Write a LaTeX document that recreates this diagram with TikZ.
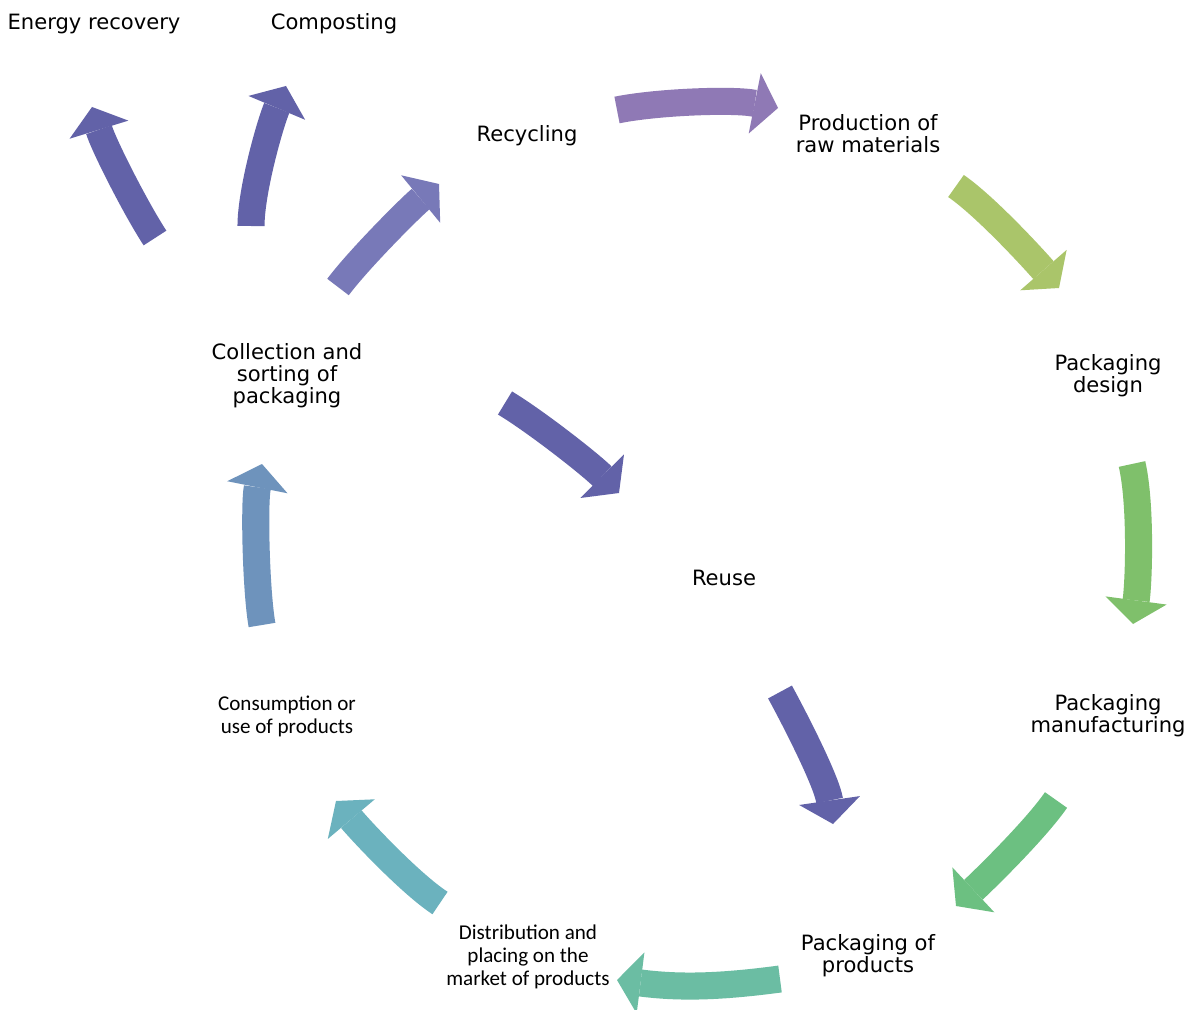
\documentclass[tikz,border=0pt]{standalone}
\usepackage{fontspec}
\setmainfont{DejaVu Sans}
\newfontfamily\smallfont{Carlito}
\usetikzlibrary{arrows.meta}
\definecolor{recyclepurple}{RGB}{143,121,181}
\definecolor{designgreen}{RGB}{170,197,106}
\definecolor{manufgreen}{RGB}{127,192,107}
\definecolor{packgreen}{RGB}{108,192,129}
\definecolor{distribteal}{RGB}{107,189,163}
\definecolor{consumeteal}{RGB}{107,178,190}
\definecolor{collectblue}{RGB}{110,147,188}
\definecolor{sortlavender}{RGB}{120,121,184}
\definecolor{loopindigo}{RGB}{98,98,168}

\begin{document}
\begin{tikzpicture}[x=0.02cm,y=-0.02cm,
	flowarrow/.style={line width=15.4pt,-{Triangle[width=35pt,length=13.5pt,line width=0pt]}},
	steplabel/.style={font=\fontsize{12}{12.5}\selectfont,align=center,inner sep=0pt},
	smalllabel/.style={font=\smallfont\fontsize{12}{13}\selectfont,align=center,inner sep=0pt}]
	%%%%% START %%%%%
	
	\path[use as bounding box, fill=white] (0,0) rectangle (1193,1010);
	
	\node[steplabel] (energy) at (94,24) {Energy recovery};
	\node[steplabel] (compost) at (334,24) {Composting};
	\node[steplabel] (recycle) at (527,136) {Recycling};
	\node[steplabel] (rawmat) at (868,134) {Production of\\raw materials};
	\node[steplabel] (design) at (1108,376) {Packaging\\design};
	\node[steplabel] (manuf) at (1108,716) {Packaging\\manufacturing};
	\node[steplabel] (packprod) at (868,956) {Packaging of\\products};
	\node[smalllabel] (distrib) at (528,957) {Distribution and\\placing on the\\market of products};
	\node[smalllabel] (consume) at (287,716) {Consumption or\\use of products};
	\node[steplabel] (collect) at (287,376) {Collection and\\sorting of\\packaging};
	\node[steplabel] (reuse) at (724,578) {Reuse};
	
	\draw[flowarrow, color=recyclepurple] (617,110) .. controls (656,102) and (733,99) .. (778,108);
	\draw[flowarrow, color=designgreen] (956,186) .. controls (985,206) and (1032,257) .. (1059,288);
	\draw[flowarrow, color=manufgreen] (1132,464) .. controls (1141,503) and (1139,579) .. (1133,624);
	\draw[flowarrow, color=packgreen] (1056,800) .. controls (1036,829) and (986,878) .. (956,906);
	
	\draw[flowarrow, color=distribteal] (780,979) .. controls (720,987) and (680,988) .. (617,980);
	\draw[flowarrow, color=consumeteal] (440,903) .. controls (411,884) and (363,833) .. (336,801);
	\draw[flowarrow, color=collectblue] (262,625) .. controls (256,591) and (254,504) .. (262,464);
	
	\draw[flowarrow, color=sortlavender] (338,287) .. controls (359,259) and (411,207) .. (439,184);
	\draw[flowarrow, color=loopindigo] (251,226) .. controls (251,191) and (270,124) .. (286,86);
	\draw[flowarrow, color=loopindigo] (155,238) .. controls (136,209) and (104,146) .. (92,107);
	\draw[flowarrow, color=loopindigo] (505,403) .. controls (535,421) and (590,464) .. (619,493);
	\draw[flowarrow, color=loopindigo] (780,692) .. controls (799,727) and (827,783) .. (833,824);
	
	%%%%% END %%%%%
\end{tikzpicture}
\end{document}
